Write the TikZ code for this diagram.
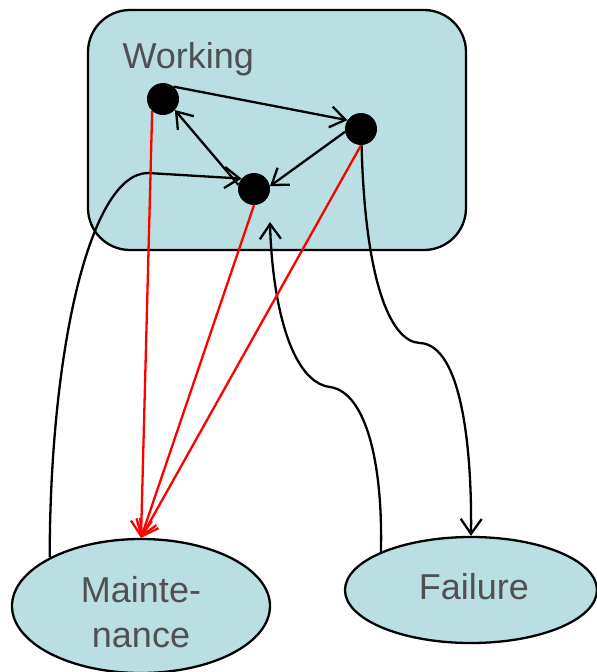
\documentclass[tikz,border=0pt]{standalone}
\usepackage{fontspec}
\setmainfont{Liberation Sans}
\usetikzlibrary{arrows.meta,shapes.geometric}
\definecolor{boxfill}{HTML}{B9DFE3}
\definecolor{labelgray}{HTML}{505050}
\begin{document}
\begin{tikzpicture}[x=1pt,y=-1pt,
  dot/.style={circle,fill=black,minimum size=32pt,inner sep=0pt},
  region/.style={draw=black,line width=2.3pt,fill=boxfill},
  lbl/.style={text=labelgray,font=\fontsize{36}{45}\selectfont},
  conn/.style={line width=2.3pt,-{Straight Barb[length=15pt,width=21pt]}},
  redconn/.style={conn,draw=red}]
\useasboundingbox (0,0) rectangle (597,672);

% the "Working" state group
\node[region,rounded corners=42pt,minimum width=378pt,minimum height=240pt] (W) at (277,130) {};
\node[lbl,anchor=base west] (Wl) at (119,68) {Working};

% sub-states
\node[dot] (A) at (163,99) {};
\node[dot] (B) at (361,129) {};
\node[dot] (C) at (254,189) {};

% other states
\node[region,ellipse,minimum width=258pt,minimum height=134pt,inner sep=0pt] (M) at (141,606) {};
\node[lbl,align=center] (Ml) at (141,612) {Mainte-\\nance};
\node[region,ellipse,minimum width=252pt,minimum height=106pt,inner sep=0pt] (F) at (471,590) {};
\node[lbl] (Fl) at (474,587) {Failure};

% transitions inside Working
\draw[conn] (A.50) -- (B.147);
\draw[conn] (B.190) -- (C.10);
\draw[conn] (C.165) -- (A.-43);

% repair and failure transitions
\draw[conn] (M.152) .. controls (50,350) and (90,173) .. (148,173) -- (C.140);
\coordinate (Cb) at (270,222);
\draw[conn] (F.157) .. controls (383,460) and (365,392) .. (330,387)
               .. controls (290,382) and (272,300) .. (Cb);
\draw[conn] (B.-88) .. controls (365,280) and (390,342) .. (420,343)
               .. controls (462,345) and (472,450) .. (F.north);

% maintenance transitions
\draw[redconn] (A.228) -- (M.north);
\draw[redconn] (C.south) -- (M.north);
\draw[redconn] (B.south) -- (M.north);
\end{tikzpicture}
\end{document}
